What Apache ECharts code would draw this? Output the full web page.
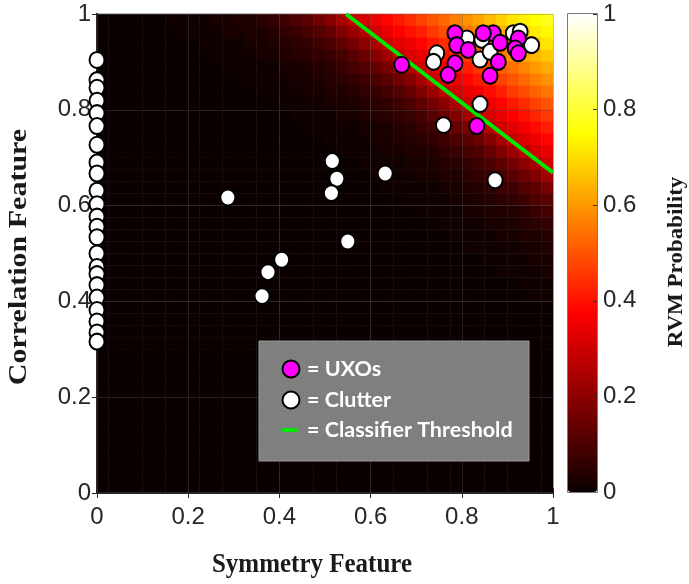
<!DOCTYPE html>
<html><head><meta charset="utf-8">
<script src="https://cdn.jsdelivr.net/npm/echarts@6/dist/echarts.min.js"></script>
<style>html,body{margin:0;padding:0;background:#fff}#c{width:689px;height:584px}</style>
</head><body><div id="c"></div>
<script>
// heatmap cell centres (Symmetry / Correlation), step 0.025
const xCells = [0.0125,0.0375,0.0625,0.0875,0.1125,0.1375,0.1625,0.1875,0.2125,0.2375,0.2625,0.2875,0.3125,0.3375,0.3625,0.3875,0.4125,0.4375,0.4625,0.4875,0.5125,0.5375,0.5625,0.5875,0.6125,0.6375,0.6625,0.6875,0.7125,0.7375,0.7625,0.7875,0.8125,0.8375,0.8625,0.8875,0.9125,0.9375,0.9625,0.9875];
const yCells = [0.0125,0.0375,0.0625,0.0875,0.1125,0.1375,0.1625,0.1875,0.2125,0.2375,0.2625,0.2875,0.3125,0.3375,0.3625,0.3875,0.4125,0.4375,0.4625,0.4875,0.5125,0.5375,0.5625,0.5875,0.6125,0.6375,0.6625,0.6875,0.7125,0.7375,0.7625,0.7875,0.8125,0.8375,0.8625,0.8875,0.9125,0.9375,0.9625,0.9875];
// RVM probability, rows listed from the TOP (y=0.9875) down to the bottom (y=0.0125)
const probGrid = [
 [0,0,0,0,0, 0,.01,.01,.01,.01, .02,.02,.03,.03,.05, .06,.08,.10,.12,.16, .19,.24,.29,.32,.35, .38,.41,.44,.47,.50, .53,.56,.59,.62,.65, .68,.71,.73,.75,.78],
 [0,0,0,0,0, 0,0,.01,.01,.01, .01,.02,.02,.03,.03, .04,.06,.07,.09,.11, .14,.18,.22,.26,.31, .34,.37,.40,.42,.46, .49,.52,.55,.58,.61, .64,.67,.69,.72,.74],
 [0,0,0,0,0, 0,0,0,0,.01, .01,.01,.01,.02,.02, .03,.04,.05,.06,.08, .10,.13,.16,.20,.25, .30,.33,.35,.38,.41, .44,.47,.51,.54,.57, .60,.63,.66,.68,.71],
 [0,0,0,0,0, 0,0,0,0,0, .01,.01,.01,.01,.02, .02,.03,.04,.05,.06, .07,.09,.12,.15,.19, .23,.28,.32,.34,.37, .40,.43,.46,.49,.52, .56,.59,.62,.64,.67],
 [0,0,0,0,0, 0,0,0,0,0, 0,.01,.01,.01,.01, .01,.02,.02,.03,.04, .05,.07,.09,.11,.14, .17,.21,.26,.30,.33, .36,.39,.42,.45,.48, .51,.54,.57,.60,.63],
 [0,0,0,0,0, 0,0,0,0,0, 0,0,0,.01,.01, .01,.01,.02,.02,.03, .04,.05,.06,.08,.10, .12,.16,.19,.24,.29, .32,.35,.38,.41,.44, .47,.50,.53,.56,.59],
 [0,0,0,0,0, 0,0,0,0,0, 0,0,0,0,.01, .01,.01,.01,.02,.02, .03,.03,.04,.06,.07, .09,.11,.14,.18,.22, .27,.31,.34,.36,.39, .42,.46,.49,.52,.55],
 [0,0,0,0,0, 0,0,0,0,0, 0,0,0,0,0, 0,.01,.01,.01,.01, .02,.02,.03,.04,.05, .06,.08,.10,.13,.16, .20,.25,.30,.33,.35, .38,.41,.44,.47,.50],
 [0,0,0,0,0, 0,0,0,0,0, 0,0,0,0,0, 0,0,.01,.01,.01, .01,.02,.02,.03,.04, .05,.06,.07,.09,.12, .15,.18,.23,.28,.31, .34,.37,.40,.43,.46],
 [0,0,0,0,0, 0,0,0,0,0, 0,0,0,0,0, 0,0,0,.01,.01, .01,.01,.01,.02,.02, .03,.04,.05,.07,.08, .11,.14,.17,.21,.26, .30,.33,.36,.39,.42],
 [0,0,0,0,0, 0,0,0,0,0, 0,0,0,0,0, 0,0,0,0,0, .01,.01,.01,.01,.02, .02,.03,.04,.05,.06, .08,.10,.12,.15,.19, .24,.29,.32,.35,.38],
 [0,0,0,0,0, 0,0,0,0,0, 0,0,0,0,0, 0,0,0,0,0, 0,.01,.01,.01,.01, .02,.02,.03,.03,.04, .06,.07,.09,.11,.14, .18,.22,.27,.31,.34],
 [0,0,0,0,0, 0,0,0,0,0, 0,0,0,0,0, 0,0,0,0,0, 0,0,0,.01,.01, .01,.01,.02,.02,.03, .04,.05,.06,.08,.10, .13,.16,.20,.24,.30],
 [0,0,0,0,0, 0,0,0,0,0, 0,0,0,0,0, 0,0,0,0,0, 0,0,0,0,.01, .01,.01,.01,.02,.02, .03,.03,.05,.06,.07, .09,.12,.15,.18,.23],
 [0,0,0,0,0, 0,0,0,0,0, 0,0,0,0,0, 0,0,0,0,0, 0,0,0,0,0, .01,.01,.01,.01,.01, .02,.02,.03,.04,.05, .07,.08,.11,.13,.17],
 [0,0,0,0,0, 0,0,0,0,0, 0,0,0,0,0, 0,0,0,0,0, 0,0,0,0,0, 0,0,.01,.01,.01, .01,.02,.02,.03,.04, .05,.06,.08,.10,.12],
 [0,0,0,0,0, 0,0,0,0,0, 0,0,0,0,0, 0,0,0,0,0, 0,0,0,0,0, 0,0,0,.01,.01, .01,.01,.02,.02,.03, .03,.04,.05,.07,.09],
 [0,0,0,0,0, 0,0,0,0,0, 0,0,0,0,0, 0,0,0,0,0, 0,0,0,0,0, 0,0,0,0,0, .01,.01,.01,.01,.02, .02,.03,.04,.05,.06],
 [0,0,0,0,0, 0,0,0,0,0, 0,0,0,0,0, 0,0,0,0,0, 0,0,0,0,0, 0,0,0,0,0, 0,.01,.01,.01,.01, .02,.02,.03,.03,.04],
 [0,0,0,0,0, 0,0,0,0,0, 0,0,0,0,0, 0,0,0,0,0, 0,0,0,0,0, 0,0,0,0,0, 0,0,.01,.01,.01, .01,.01,.02,.02,.03],
 [0,0,0,0,0, 0,0,0,0,0, 0,0,0,0,0, 0,0,0,0,0, 0,0,0,0,0, 0,0,0,0,0, 0,0,0,0,.01, .01,.01,.01,.02,.02],
 [0,0,0,0,0, 0,0,0,0,0, 0,0,0,0,0, 0,0,0,0,0, 0,0,0,0,0, 0,0,0,0,0, 0,0,0,0,0, .01,.01,.01,.01,.02],
 [0,0,0,0,0, 0,0,0,0,0, 0,0,0,0,0, 0,0,0,0,0, 0,0,0,0,0, 0,0,0,0,0, 0,0,0,0,0, 0,0,.01,.01,.01],
 [0,0,0,0,0, 0,0,0,0,0, 0,0,0,0,0, 0,0,0,0,0, 0,0,0,0,0, 0,0,0,0,0, 0,0,0,0,0, 0,0,0,.01,.01],
 [0,0,0,0,0, 0,0,0,0,0, 0,0,0,0,0, 0,0,0,0,0, 0,0,0,0,0, 0,0,0,0,0, 0,0,0,0,0, 0,0,0,0,0],
 [0,0,0,0,0, 0,0,0,0,0, 0,0,0,0,0, 0,0,0,0,0, 0,0,0,0,0, 0,0,0,0,0, 0,0,0,0,0, 0,0,0,0,0],
 [0,0,0,0,0, 0,0,0,0,0, 0,0,0,0,0, 0,0,0,0,0, 0,0,0,0,0, 0,0,0,0,0, 0,0,0,0,0, 0,0,0,0,0],
 [0,0,0,0,0, 0,0,0,0,0, 0,0,0,0,0, 0,0,0,0,0, 0,0,0,0,0, 0,0,0,0,0, 0,0,0,0,0, 0,0,0,0,0],
 [0,0,0,0,0, 0,0,0,0,0, 0,0,0,0,0, 0,0,0,0,0, 0,0,0,0,0, 0,0,0,0,0, 0,0,0,0,0, 0,0,0,0,0],
 [0,0,0,0,0, 0,0,0,0,0, 0,0,0,0,0, 0,0,0,0,0, 0,0,0,0,0, 0,0,0,0,0, 0,0,0,0,0, 0,0,0,0,0],
 [0,0,0,0,0, 0,0,0,0,0, 0,0,0,0,0, 0,0,0,0,0, 0,0,0,0,0, 0,0,0,0,0, 0,0,0,0,0, 0,0,0,0,0],
 [0,0,0,0,0, 0,0,0,0,0, 0,0,0,0,0, 0,0,0,0,0, 0,0,0,0,0, 0,0,0,0,0, 0,0,0,0,0, 0,0,0,0,0],
 [0,0,0,0,0, 0,0,0,0,0, 0,0,0,0,0, 0,0,0,0,0, 0,0,0,0,0, 0,0,0,0,0, 0,0,0,0,0, 0,0,0,0,0],
 [0,0,0,0,0, 0,0,0,0,0, 0,0,0,0,0, 0,0,0,0,0, 0,0,0,0,0, 0,0,0,0,0, 0,0,0,0,0, 0,0,0,0,0],
 [0,0,0,0,0, 0,0,0,0,0, 0,0,0,0,0, 0,0,0,0,0, 0,0,0,0,0, 0,0,0,0,0, 0,0,0,0,0, 0,0,0,0,0],
 [0,0,0,0,0, 0,0,0,0,0, 0,0,0,0,0, 0,0,0,0,0, 0,0,0,0,0, 0,0,0,0,0, 0,0,0,0,0, 0,0,0,0,0],
 [0,0,0,0,0, 0,0,0,0,0, 0,0,0,0,0, 0,0,0,0,0, 0,0,0,0,0, 0,0,0,0,0, 0,0,0,0,0, 0,0,0,0,0],
 [0,0,0,0,0, 0,0,0,0,0, 0,0,0,0,0, 0,0,0,0,0, 0,0,0,0,0, 0,0,0,0,0, 0,0,0,0,0, 0,0,0,0,0],
 [0,0,0,0,0, 0,0,0,0,0, 0,0,0,0,0, 0,0,0,0,0, 0,0,0,0,0, 0,0,0,0,0, 0,0,0,0,0, 0,0,0,0,0],
 [0,0,0,0,0, 0,0,0,0,0, 0,0,0,0,0, 0,0,0,0,0, 0,0,0,0,0, 0,0,0,0,0, 0,0,0,0,0, 0,0,0,0,0]
];
const uxoPoints = [[0.668,0.894],[0.833,0.766],[0.785,0.960],[0.789,0.935],[0.814,0.925],[0.785,0.897],[0.770,0.873],[0.869,0.960],[0.884,0.940],[0.880,0.900],[0.862,0.871],[0.924,0.949],[0.917,0.928],[0.924,0.918],[0.847,0.960]];
const clutterPoints = [
 [0,0.904],[0,0.862],[0,0.846],[0,0.819],[0,0.793],[0,0.766],[0,0.727],[0,0.690],[0,0.667],[0,0.631],[0,0.603],[0,0.577],[0,0.556],[0,0.534],[0,0.500],[0,0.472],[0,0.457],[0,0.434],[0,0.408],[0,0.382],[0,0.358],[0,0.335],[0,0.316],
 [0.287,0.617],[0.516,0.693],[0.526,0.656],[0.514,0.626],[0.632,0.667],[0.550,0.525],[0.405,0.487],[0.375,0.461],[0.362,0.411],
 [0.760,0.768],[0.840,0.812],[0.873,0.653],
 [0.745,0.918],[0.738,0.900],[0.811,0.949],[0.844,0.946],[0.840,0.905],[0.862,0.921],[0.913,0.960],[0.953,0.935],[0.928,0.963]
];
const thresholdLine = [[0.546,1],[1,0.669]];
const legendLabels = ['= UXOs','= Clutter','= Classifier Threshold'];
const xTitle = 'Symmetry Feature', yTitle = 'Correlation Feature', cbTitle = 'RVM Probability';

const heatData = [];
const nRows = probGrid.length;
probGrid.forEach((row, r) => row.forEach((v, i) => heatData.push([i, nRows - 1 - r, v])));

const hot = ['#0b0000','#5c0000','#ad0000','#ff0000','#ff5500','#ffaa00','#ffff00','#ffff80','#ffffff'];
const tickFont = {fontFamily:'Liberation Sans', fontSize:24, color:'#262626'};
const box = {left:97, top:14, width:456, height:479};
const frame = {show:true, lineStyle:{color:'#262626', width:2}};
const ticks = {show:true, inside:true, length:5, lineStyle:{color:'#262626', width:1}};
const gridLines = {show:true, lineStyle:{color:'rgba(90,90,90,0.35)', width:1}};
const legendFont = 'bold 21.5px Lato';
const titleStyle = (t, f) => ({text:t, font:f, fill:'#1a1a1a', align:'center', verticalAlign:'middle', textAlign:'center', textVerticalAlign:'middle'});
const legStyle = (t) => ({text:t, font:legendFont, fill:'#fff', align:'left', verticalAlign:'middle', textAlign:'left', textVerticalAlign:'middle'});

const chart = echarts.init(document.getElementById('c'), null, {renderer:'canvas'});
chart.setOption({
  animation:false,
  grid:[Object.assign({}, box), Object.assign({}, box), {left:568, top:14, width:29, height:478}],
  xAxis:[
    {gridIndex:0, type:'category', data:xCells, show:false},
    {gridIndex:1, type:'value', min:0, max:1, interval:0.2, position:'bottom', z:3,
      axisLine:frame, axisTick:ticks, splitLine:gridLines, axisLabel:Object.assign({margin:12}, tickFont)},
    {gridIndex:1, type:'value', min:0, max:1, interval:0.2, position:'top', z:3,
      axisLine:frame, axisTick:ticks, splitLine:{show:false}, axisLabel:{show:false}},
    {gridIndex:2, type:'category', data:[''], show:false}
  ],
  yAxis:[
    {gridIndex:0, type:'category', data:yCells, show:false},
    {gridIndex:1, type:'value', min:0, max:1, interval:0.2, position:'left', z:3,
      axisLine:frame, axisTick:ticks, splitLine:gridLines, axisLabel:Object.assign({margin:6}, tickFont)},
    {gridIndex:1, type:'value', min:0, max:1, interval:0.2, position:'right', z:3,
      axisLine:frame, axisTick:ticks, splitLine:{show:false}, axisLabel:{show:false}},
    {gridIndex:2, type:'value', min:0, max:1, interval:0.2, position:'right', z:5,
      axisLine:{show:false}, splitLine:{show:false},
      axisTick:{show:true, inside:true, length:4, lineStyle:{color:'#333'}},
      axisLabel:Object.assign({margin:6}, tickFont)}
  ],
  visualMap:{type:'continuous', seriesIndex:0, min:0, max:1, left:568, top:14, itemWidth:29, itemHeight:478,
    calculable:false, padding:0, hoverLink:false, inRange:{color:hot}},
  series:[
    {type:'heatmap', xAxisIndex:0, yAxisIndex:0, data:heatData, z:1, emphasis:{disabled:true}, progressive:0},
    {type:'line', xAxisIndex:1, yAxisIndex:1, data:thresholdLine, symbol:'none', z:4,
      lineStyle:{color:'#00e600', width:4}},
    {type:'scatter', xAxisIndex:1, yAxisIndex:1, data:clutterPoints, symbolSize:[15,16], clip:false, z:5,
      itemStyle:{color:'#ffffff', borderColor:'#000', borderWidth:2, opacity:1}},
    {type:'scatter', xAxisIndex:1, yAxisIndex:1, data:uxoPoints, symbolSize:[15,16], clip:false, z:6,
      itemStyle:{color:'#ff00ff', borderColor:'#000', borderWidth:2, opacity:1}}
  ],
  graphic:[
    {type:'rect', shape:{x:567.5, y:13.5, width:30, height:479}, style:{fill:'none', stroke:'#7a7a7a', lineWidth:1}, z:100},
    {type:'rect', shape:{x:259, y:341, width:270, height:120}, style:{fill:'#7f7f7f', stroke:'#9a9a9a', lineWidth:1}, z:100},
    {type:'circle', shape:{cx:291, cy:369, r:8.5}, style:{fill:'#ff00ff', stroke:'#000', lineWidth:2}, z:101},
    {type:'circle', shape:{cx:291, cy:400, r:8.5}, style:{fill:'#ffffff', stroke:'#000', lineWidth:2}, z:101},
    {type:'line', shape:{x1:282, y1:430, x2:298, y2:430}, style:{stroke:'#00e600', lineWidth:4}, z:101},
    {type:'text', x:307, y:369, z:101, style:legStyle(legendLabels[0])},
    {type:'text', x:307, y:400, z:101, style:legStyle(legendLabels[1])},
    {type:'text', x:307, y:430, z:101, style:legStyle(legendLabels[2])},
    {type:'text', x:312, y:565, scaleY:1.1, z:101, style:titleStyle(xTitle, 'bold 25px "Liberation Serif"')},
    {type:'text', x:20, y:257, rotation:Math.PI/2, scaleX:1.2, z:101, style:titleStyle(yTitle, 'bold 25px "Liberation Serif"')},
    {type:'text', x:677, y:262, rotation:Math.PI/2, scaleX:1.15, z:101, style:titleStyle(cbTitle, 'bold 20px "Liberation Serif"')}
  ]
});
</script></body></html>
